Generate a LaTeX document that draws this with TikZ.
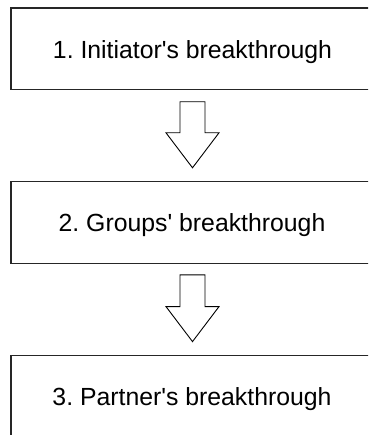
\documentclass[tikz,border=0pt]{standalone}
\usepackage{fontspec}
\setmainfont{Liberation Sans}
\usetikzlibrary{calc}
\frenchspacing
\begin{document}
\begin{tikzpicture}[x=1pt,y=-1pt,
  stepbox/.style={draw=black!85, line width=1.3pt, minimum width=362pt, minimum height=81.5pt, inner sep=0pt},
  steptext/.style={anchor=base, inner sep=0pt, font=\fontsize{24.8}{28}\selectfont},
  blk/.style={draw=black, line width=0.9pt, fill=white, line join=miter}]
\useasboundingbox (0,0) rectangle (368,435);
\clip (0,0) rectangle (368,435);
\node[stepbox] (b1) at (192,48.7) {};
\node[stepbox] (b2) at (192,222.5) {};
\node[stepbox] (b3) at (192,396.3) {};
\node[steptext] (t1) at ($(b1.north)+(0.5,51)$) {1. Initiator\textquotesingle s breakthrough};
\node[steptext] (t2) at ($(b2.north)+(0,50.5)$) {2. Groups\textquotesingle{} breakthrough};
\node[steptext] (t3) at ($(b3.north)+(0,50.5)$) {3. Partner\textquotesingle s breakthrough};
\path (b1.south) ++(0.5,11.7) coordinate (a1top);
\path (b2.north) ++(0.5,-13.3) coordinate (a1tip);
\draw[blk] ($(a1top)+(-12.5,0)$) -- ($(a1tip)+(-12.5,-35)$) -- ($(a1tip)+(-26.5,-35)$) -- (a1tip) -- ($(a1tip)+(26.5,-35)$) -- ($(a1tip)+(12.5,-35)$) -- ($(a1top)+(12.5,0)$) -- cycle;
\path (b2.south) ++(0.5,11) coordinate (a2top);
\path (b3.north) ++(0.5,-13.3) coordinate (a2tip);
\draw[blk] ($(a2top)+(-12.5,0)$) -- ($(a2tip)+(-12.5,-35)$) -- ($(a2tip)+(-26.5,-35)$) -- (a2tip) -- ($(a2tip)+(26.5,-35)$) -- ($(a2tip)+(12.5,-35)$) -- ($(a2top)+(12.5,0)$) -- cycle;
\end{tikzpicture}
\end{document}
